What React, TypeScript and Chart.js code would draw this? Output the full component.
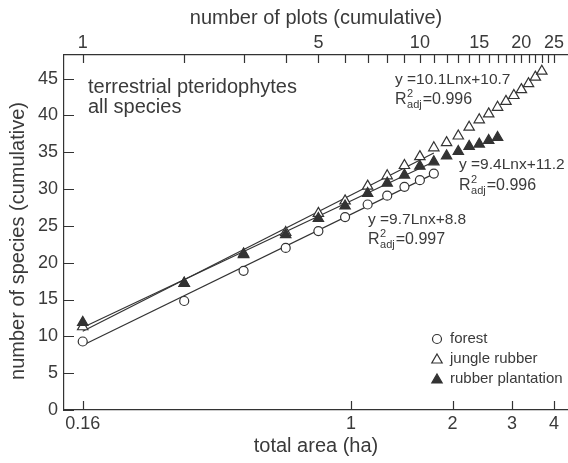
import React, { useEffect, useRef } from 'react';
import { Chart, registerables } from 'chart.js';

Chart.register(...registerables);

// ---------- data ----------
const PLOT_SIZE_HA = 0.16;
const forestPlots = [1, 2, 3, 4, 5, 6, 7, 8, 9, 10, 11];
const forestSpecies = [9.3, 14.8, 18.9, 22.0, 24.3, 26.2, 27.9, 29.1, 30.3, 31.2, 32.1];
const junglePlots = [1, 2, 3, 4, 5, 6, 7, 8, 9, 10, 11, 12, 13, 14, 15, 16, 17, 18, 19, 20, 21, 22, 23];
const jungleSpecies = [11.3, 17.2, 21.2, 24.1, 26.7, 28.4, 30.4, 31.8, 33.2, 34.4, 35.6, 36.3, 37.2, 38.4, 39.4, 40.2, 41.1, 41.9, 42.7, 43.5, 44.3, 45.2, 46.0];
const rubberPlots = [1, 2, 3, 4, 5, 6, 7, 8, 9, 10, 11, 12, 13, 14, 15, 16, 17];
const rubberSpecies = [11.9, 17.2, 21.1, 23.8, 26.0, 27.7, 29.4, 30.8, 31.9, 33.1, 33.7, 34.5, 35.1, 35.8, 36.1, 36.6, 37.0];

// fitted lines (drawn over plots 1..11)
const fitPlots = [1, 11];
const forestFit = [8.8, 32.06];
const jungleFit = [10.7, 34.9];
const rubberFit = [11.2, 33.7];

const equationForest = ['y =9.7Lnx+8.8', '0.997'];
const equationJungle = ['y =10.1Lnx+10.7', '0.996'];
const equationRubber = ['y =9.4Lnx+11.2', '0.996'];

// ticks
const areaTicks = [0.16, 1, 2, 3, 4];
const plotLabelTicks = [1, 5, 10, 15, 20, 25];
const plotMinorTicks = [1, 2, 3, 4, 5, 6, 7, 8, 9, 10, 11, 12, 13, 14, 15, 16, 17, 18, 19, 20, 21, 22, 23, 24, 25];
const speciesTicks = [0, 5, 10, 15, 20, 25, 30, 35, 40, 45];

const legendItems = ['forest', 'jungle rubber', 'rubber plantation'];

// ---------- style ----------
const FONT = "'Liberation Sans', Arial, Helvetica, sans-serif";
const INK = '#333333';
const TEXT = '#3a3a3a';

const toArea = (n: number) => n * PLOT_SIZE_HA;

function drawTri(ctx: CanvasRenderingContext2D, x: number, y: number, r: number, filled: boolean) {
  ctx.beginPath();
  ctx.moveTo(x, y - r);
  ctx.lineTo(x + r * 0.866, y + r * 0.5);
  ctx.lineTo(x - r * 0.866, y + r * 0.5);
  ctx.closePath();
  ctx.fillStyle = filled ? INK : '#ffffff';
  ctx.fill();
  ctx.lineWidth = 1.2;
  ctx.strokeStyle = INK;
  ctx.stroke();
}

function drawR2(ctx: CanvasRenderingContext2D, x: number, cy: number, val: string) {
  const base = cy + 6;
  ctx.textBaseline = 'alphabetic';
  ctx.textAlign = 'left';
  ctx.font = `16px ${FONT}`;
  ctx.fillText('R', x, base);
  const w = ctx.measureText('R').width;
  ctx.font = `11px ${FONT}`;
  ctx.fillText('2', x + w + 0.5, base - 7);
  ctx.fillText('adj', x + w + 0.5, base + 4);
  const w2 = ctx.measureText('adj').width;
  ctx.font = `16px ${FONT}`;
  ctx.fillText('=' + val, x + w + w2 + 1.5, base);
}

const decorPlugin = {
  id: 'decor',
  afterDatasetsDraw(chart: any) {
    const ctx: CanvasRenderingContext2D = chart.ctx;
    const { x, x2, y } = chart.scales;
    const area = chart.chartArea;
    ctx.save();
    ctx.strokeStyle = INK;
    ctx.lineWidth = 1.2;
    // inside ticks
    ctx.beginPath();
    speciesTicks.forEach((v) => {
      const py = Math.round(y.getPixelForValue(v)) + 0.5;
      ctx.moveTo(area.left, py);
      ctx.lineTo(area.left + 10, py);
    });
    areaTicks.forEach((v) => {
      const px = Math.round(x.getPixelForValue(v)) + 0.5;
      ctx.moveTo(px, area.bottom);
      ctx.lineTo(px, area.bottom - 9);
    });
    plotMinorTicks.forEach((v) => {
      const px = Math.round(x2.getPixelForValue(v)) + 0.5;
      ctx.moveTo(px, area.top);
      ctx.lineTo(px, area.top + 8);
    });
    ctx.stroke();

    // y-axis title
    ctx.fillStyle = TEXT;
    ctx.save();
    ctx.translate(18, 241);
    ctx.rotate(-Math.PI / 2);
    ctx.textAlign = 'center';
    ctx.textBaseline = 'middle';
    ctx.font = `20px ${FONT}`;
    ctx.fillText('number of species (cumulative)', 0, 0);
    ctx.restore();

    // inset text
    ctx.textAlign = 'left';
    ctx.textBaseline = 'middle';
    ctx.font = `20px ${FONT}`;
    ctx.fillText('terrestrial pteridophytes', 88, 87);
    ctx.fillText('all species', 88, 107);

    // equations
    ctx.font = `15.5px ${FONT}`;
    ctx.textBaseline = 'middle';
    ctx.fillText(equationJungle[0], 395, 80);
    drawR2(ctx, 395, 98, equationJungle[1]);
    ctx.font = `15.5px ${FONT}`;
    ctx.textBaseline = 'middle';
    ctx.fillText(equationRubber[0], 459, 165);
    drawR2(ctx, 459, 184, equationRubber[1]);
    ctx.font = `15.5px ${FONT}`;
    ctx.textBaseline = 'middle';
    ctx.fillText(equationForest[0], 368, 220);
    drawR2(ctx, 368, 238, equationForest[1]);

    // legend
    const lx = 437;
    const ly = [339, 359, 379];
    ctx.beginPath();
    ctx.arc(lx, ly[0], 4.5, 0, Math.PI * 2);
    ctx.fillStyle = '#fff';
    ctx.fill();
    ctx.stroke();
    drawTri(ctx, lx, ly[1] + 1, 6, false);
    drawTri(ctx, lx, ly[2] + 1, 6, true);
    ctx.fillStyle = TEXT;
    ctx.font = `15px ${FONT}`;
    ctx.textBaseline = 'middle';
    legendItems.forEach((t, i) => ctx.fillText(t, 450, ly[i]));
    ctx.restore();
  },
};

export default function App() {
  const ref = useRef<HTMLCanvasElement | null>(null);
  useEffect(() => {
    if (!ref.current) return;
    const pts = (ns: number[], vs: number[]) => ns.map((n, i) => ({ x: toArea(n), y: vs[i] }));
    const lineDs = (vs: number[]) => ({
      data: pts(fitPlots, vs),
      showLine: true,
      pointRadius: 0,
      borderColor: INK,
      borderWidth: 1.2,
      order: 10,
    });
    const noPad = (s: any) => {
      s.paddingLeft = 0;
      s.paddingRight = 0;
      s.paddingTop = 0;
      s.paddingBottom = 0;
    };
    const chart = new Chart(ref.current, {
      type: 'scatter',
      data: {
        datasets: [
          lineDs(forestFit),
          lineDs(jungleFit),
          lineDs(rubberFit),
          {
            data: pts(forestPlots, forestSpecies),
            pointStyle: 'circle',
            pointRadius: 4.5,
            backgroundColor: '#ffffff',
            borderColor: INK,
            borderWidth: 1.2,
            order: 1,
          },
          {
            data: pts(junglePlots, jungleSpecies),
            pointStyle: 'triangle',
            pointRadius: 6,
            backgroundColor: '#ffffff',
            borderColor: INK,
            borderWidth: 1.2,
            order: 1,
          },
          {
            data: pts(rubberPlots, rubberSpecies),
            pointStyle: 'triangle',
            pointRadius: 6,
            backgroundColor: INK,
            borderColor: INK,
            borderWidth: 1.2,
            order: 0,
          },
        ],
      },
      options: {
        animation: false,
        responsive: false,
        layout: { padding: 0, autoPadding: false },
        plugins: { legend: { display: false }, tooltip: { enabled: false } },
        scales: {
          x: {
            type: 'logarithmic',
            position: 'bottom',
            min: 0.1408,
            max: 4.4,
            afterBuildTicks: (s: any) => {
              s.ticks = areaTicks.map((v) => ({ value: v }));
            },
            afterFit: (s: any) => {
              s.height = 53;
              noPad(s);
            },
            ticks: {
              autoSkip: false,
              maxRotation: 0,
              padding: 3,
              color: TEXT,
              font: { family: FONT, size: 18 },
              callback: (v: any) => String(v),
            },
            grid: { display: false, drawTicks: false },
            border: { display: true, color: INK, width: 1.2 },
            title: {
              display: true,
              text: 'total area (ha)',
              color: TEXT,
              font: { family: FONT, size: 20 },
              padding: { top: 0, bottom: 5 },
            },
          },
          x2: {
            type: 'logarithmic',
            position: 'top',
            min: 0.88,
            max: 27.5,
            afterBuildTicks: (s: any) => {
              s.ticks = plotLabelTicks.map((v) => ({ value: v }));
            },
            afterFit: (s: any) => {
              s.height = 55;
              noPad(s);
            },
            ticks: {
              autoSkip: false,
              maxRotation: 0,
              padding: 1,
              color: TEXT,
              font: { family: FONT, size: 18 },
              callback: (v: any) => String(v),
            },
            grid: { display: false, drawTicks: false },
            border: { display: true, color: INK, width: 1.2 },
            title: {
              display: true,
              text: 'number of plots (cumulative)',
              color: TEXT,
              font: { family: FONT, size: 20 },
              padding: { top: 6, bottom: 0 },
            },
          },
          y: {
            type: 'linear',
            min: 0,
            max: 48.2,
            afterBuildTicks: (s: any) => {
              s.ticks = speciesTicks.map((v) => ({ value: v }));
            },
            afterFit: (s: any) => {
              s.width = 64;
              noPad(s);
            },
            ticks: {
              padding: 6,
              color: TEXT,
              font: { family: FONT, size: 18 },
              callback: (v: any) => String(v),
            },
            grid: { display: false, drawTicks: false },
            border: { display: true, color: INK, width: 1.2 },
            title: { display: false },
          },
        },
      },
      plugins: [decorPlugin],
    } as any);
    return () => chart.destroy();
  }, []);
  return (
    <div style={{ position: 'fixed', left: 0, top: 0, width: 568, height: 463, background: '#fff' }}>
      <canvas ref={ref} width={568} height={463} style={{ display: 'block' }} />
    </div>
  );
}
